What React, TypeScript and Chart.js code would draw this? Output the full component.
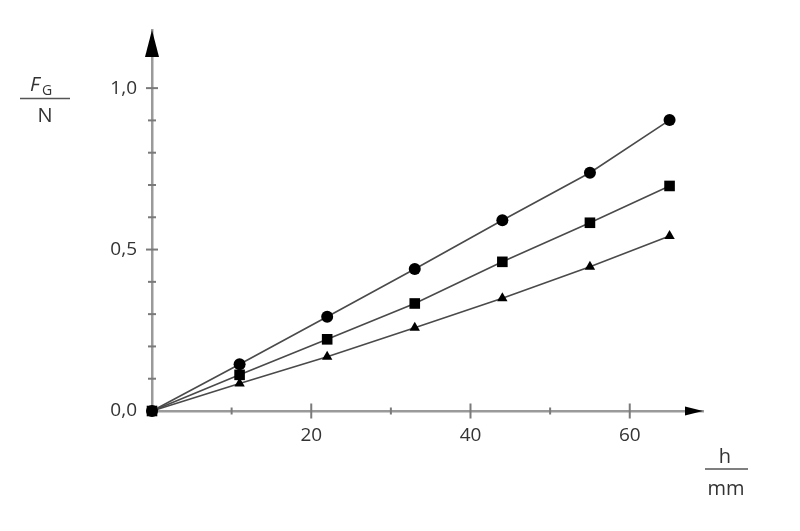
import React, { useEffect, useRef } from "react";
import { Chart, registerables } from "chart.js";

Chart.register(...registerables);

// Data
const hValues = [0, 11, 22, 33, 44, 55, 65];
const circleValues = [0, 0.145, 0.292, 0.44, 0.591, 0.738, 0.901];
const squareValues = [0, 0.112, 0.222, 0.333, 0.462, 0.583, 0.697];
const triangleValues = [0, 0.085, 0.168, 0.258, 0.349, 0.447, 0.542];

const xMajorLabels = [20, 40, 60];
const yMajorLabels = [0, 0.5, 1.0];

const xMax = 69.2;
const yMax = 1.18;

const toPts = (xs: number[], ys: number[]) => xs.map((x, i) => ({ x, y: ys[i] }));

const FONT = "'Open Sans', 'DejaVu Sans', sans-serif";

const axisDecor = {
  id: "axisDecor",
  afterDraw(chart: any) {
    const ctx = chart.ctx;
    const xs = chart.scales.x;
    const ys = chart.scales.y;
    const ox = xs.getPixelForValue(0);
    const oy = ys.getPixelForValue(0);
    const area = chart.chartArea;
    ctx.save();
    // tick marks crossing the axes
    ctx.strokeStyle = "#7a7a7a";
    ctx.lineWidth = 2;
    xs.ticks.forEach((t: any) => {
      const v = t.value;
      if (v <= 0 || v > 60.5) return;
      const px = xs.getPixelForValue(v);
      const major = xMajorLabels.some((m) => Math.abs(m - v) < 1e-6);
      const len = major ? 7.5 : 3.5;
      ctx.beginPath();
      ctx.moveTo(px, oy - len);
      ctx.lineTo(px, oy + len);
      ctx.stroke();
    });
    ys.ticks.forEach((t: any) => {
      const v = t.value;
      if (v <= 0.001 || v > 1.001) return;
      const py = ys.getPixelForValue(v);
      const major = yMajorLabels.some((m) => Math.abs(m - v) < 1e-6);
      const len = major ? 6 : 4;
      ctx.beginPath();
      ctx.moveTo(ox - len, py);
      ctx.lineTo(ox + len, py);
      ctx.stroke();
    });
    // arrows
    ctx.fillStyle = "#000";
    ctx.beginPath();
    ctx.moveTo(ox, area.top);
    ctx.lineTo(ox - 7, area.top + 27);
    ctx.lineTo(ox + 7, area.top + 27);
    ctx.closePath();
    ctx.fill();
    ctx.beginPath();
    ctx.moveTo(area.right, oy);
    ctx.lineTo(area.right - 18, oy - 4.5);
    ctx.lineTo(area.right - 18, oy + 4.5);
    ctx.closePath();
    ctx.fill();

    // axis titles as fractions
    ctx.fillStyle = "#333";
    ctx.strokeStyle = "#555";
    ctx.lineWidth = 1.5;
    ctx.textBaseline = "alphabetic";
    // y: F_G / N
    ctx.font = `italic 20px ${FONT}`;
    ctx.textAlign = "left";
    ctx.fillText("F", 30, 91);
    ctx.font = `14px ${FONT}`;
    ctx.fillText("G", 42, 95);
    ctx.beginPath();
    ctx.moveTo(20, 98.5);
    ctx.lineTo(70, 98.5);
    ctx.stroke();
    ctx.font = `20px ${FONT}`;
    ctx.textAlign = "center";
    ctx.fillText("N", 45, 122);
    // x: h / mm
    ctx.font = `20px ${FONT}`;
    ctx.fillText("h", 725, 463);
    ctx.beginPath();
    ctx.moveTo(705, 469);
    ctx.lineTo(748, 469);
    ctx.stroke();
    ctx.fillText("mm", 726, 495);
    ctx.restore();
  },
};

export default function App() {
  const ref = useRef<HTMLCanvasElement | null>(null);
  useEffect(() => {
    document.body.style.margin = "0";
    const canvas = ref.current!;
    const common = {
      borderColor: "#4a4a4a",
      borderWidth: 1.6,
      pointBackgroundColor: "#000",
      pointBorderColor: "#000",
      pointBorderWidth: 0,
      showLine: true,
      fill: false,
      clip: false as any,
    };
    const chart = new Chart(canvas, {
      type: "scatter",
      data: {
        datasets: [
          { ...common, label: "circle", data: toPts(hValues, circleValues), pointStyle: "circle", pointRadius: 6 },
          { ...common, label: "square", data: toPts(hValues, squareValues), pointStyle: "rect", pointRadius: 7.5 },
          { ...common, label: "triangle", data: toPts(hValues, triangleValues), pointStyle: "triangle", pointRadius: 6 },
        ] as any,
      },
      options: {
        responsive: false,
        animation: false,
        events: [],
        layout: { padding: { top: 30, right: 97, left: 0, bottom: 0 } },
        plugins: { legend: { display: false }, tooltip: { enabled: false }, title: { display: false } },
        scales: {
          x: {
            type: "linear",
            min: 0,
            max: xMax,
            grid: { display: false, drawTicks: false },
            border: { display: true, color: "#9a9a9a", width: 2.5 },
            ticks: {
              stepSize: 10,
              includeBounds: false,
              autoSkip: false,
              maxRotation: 0,
              padding: 13,
              color: "#333",
              font: { family: FONT, size: 19 },
              callback: (v: any) => (xMajorLabels.some((m) => Math.abs(m - Number(v)) < 1e-6) ? String(v) : ""),
            },
            afterFit: (s: any) => {
              s.height = 120;
            },
          },
          y: {
            type: "linear",
            min: 0,
            max: yMax,
            grid: { display: false, drawTicks: false },
            border: { display: true, color: "#9a9a9a", width: 2.5 },
            ticks: {
              stepSize: 0.1,
              includeBounds: false,
              autoSkip: false,
              padding: 15,
              color: "#333",
              font: { family: FONT, size: 19 },
              callback: (v: any) => {
                const n = Number(v);
                const m = yMajorLabels.find((q) => Math.abs(q - n) < 1e-6);
                return m === undefined ? "" : m.toFixed(1).replace(".", ",");
              },
            },
            afterFit: (s: any) => {
              s.width = 152;
            },
          },
        },
      },
      plugins: [axisDecor],
    });
    return () => chart.destroy();
  }, []);
  return (
    <div style={{ position: "absolute", left: 0, top: 0, width: 800, height: 531, background: "#fff" }}>
      <canvas ref={ref} width={800} height={531} />
    </div>
  );
}
